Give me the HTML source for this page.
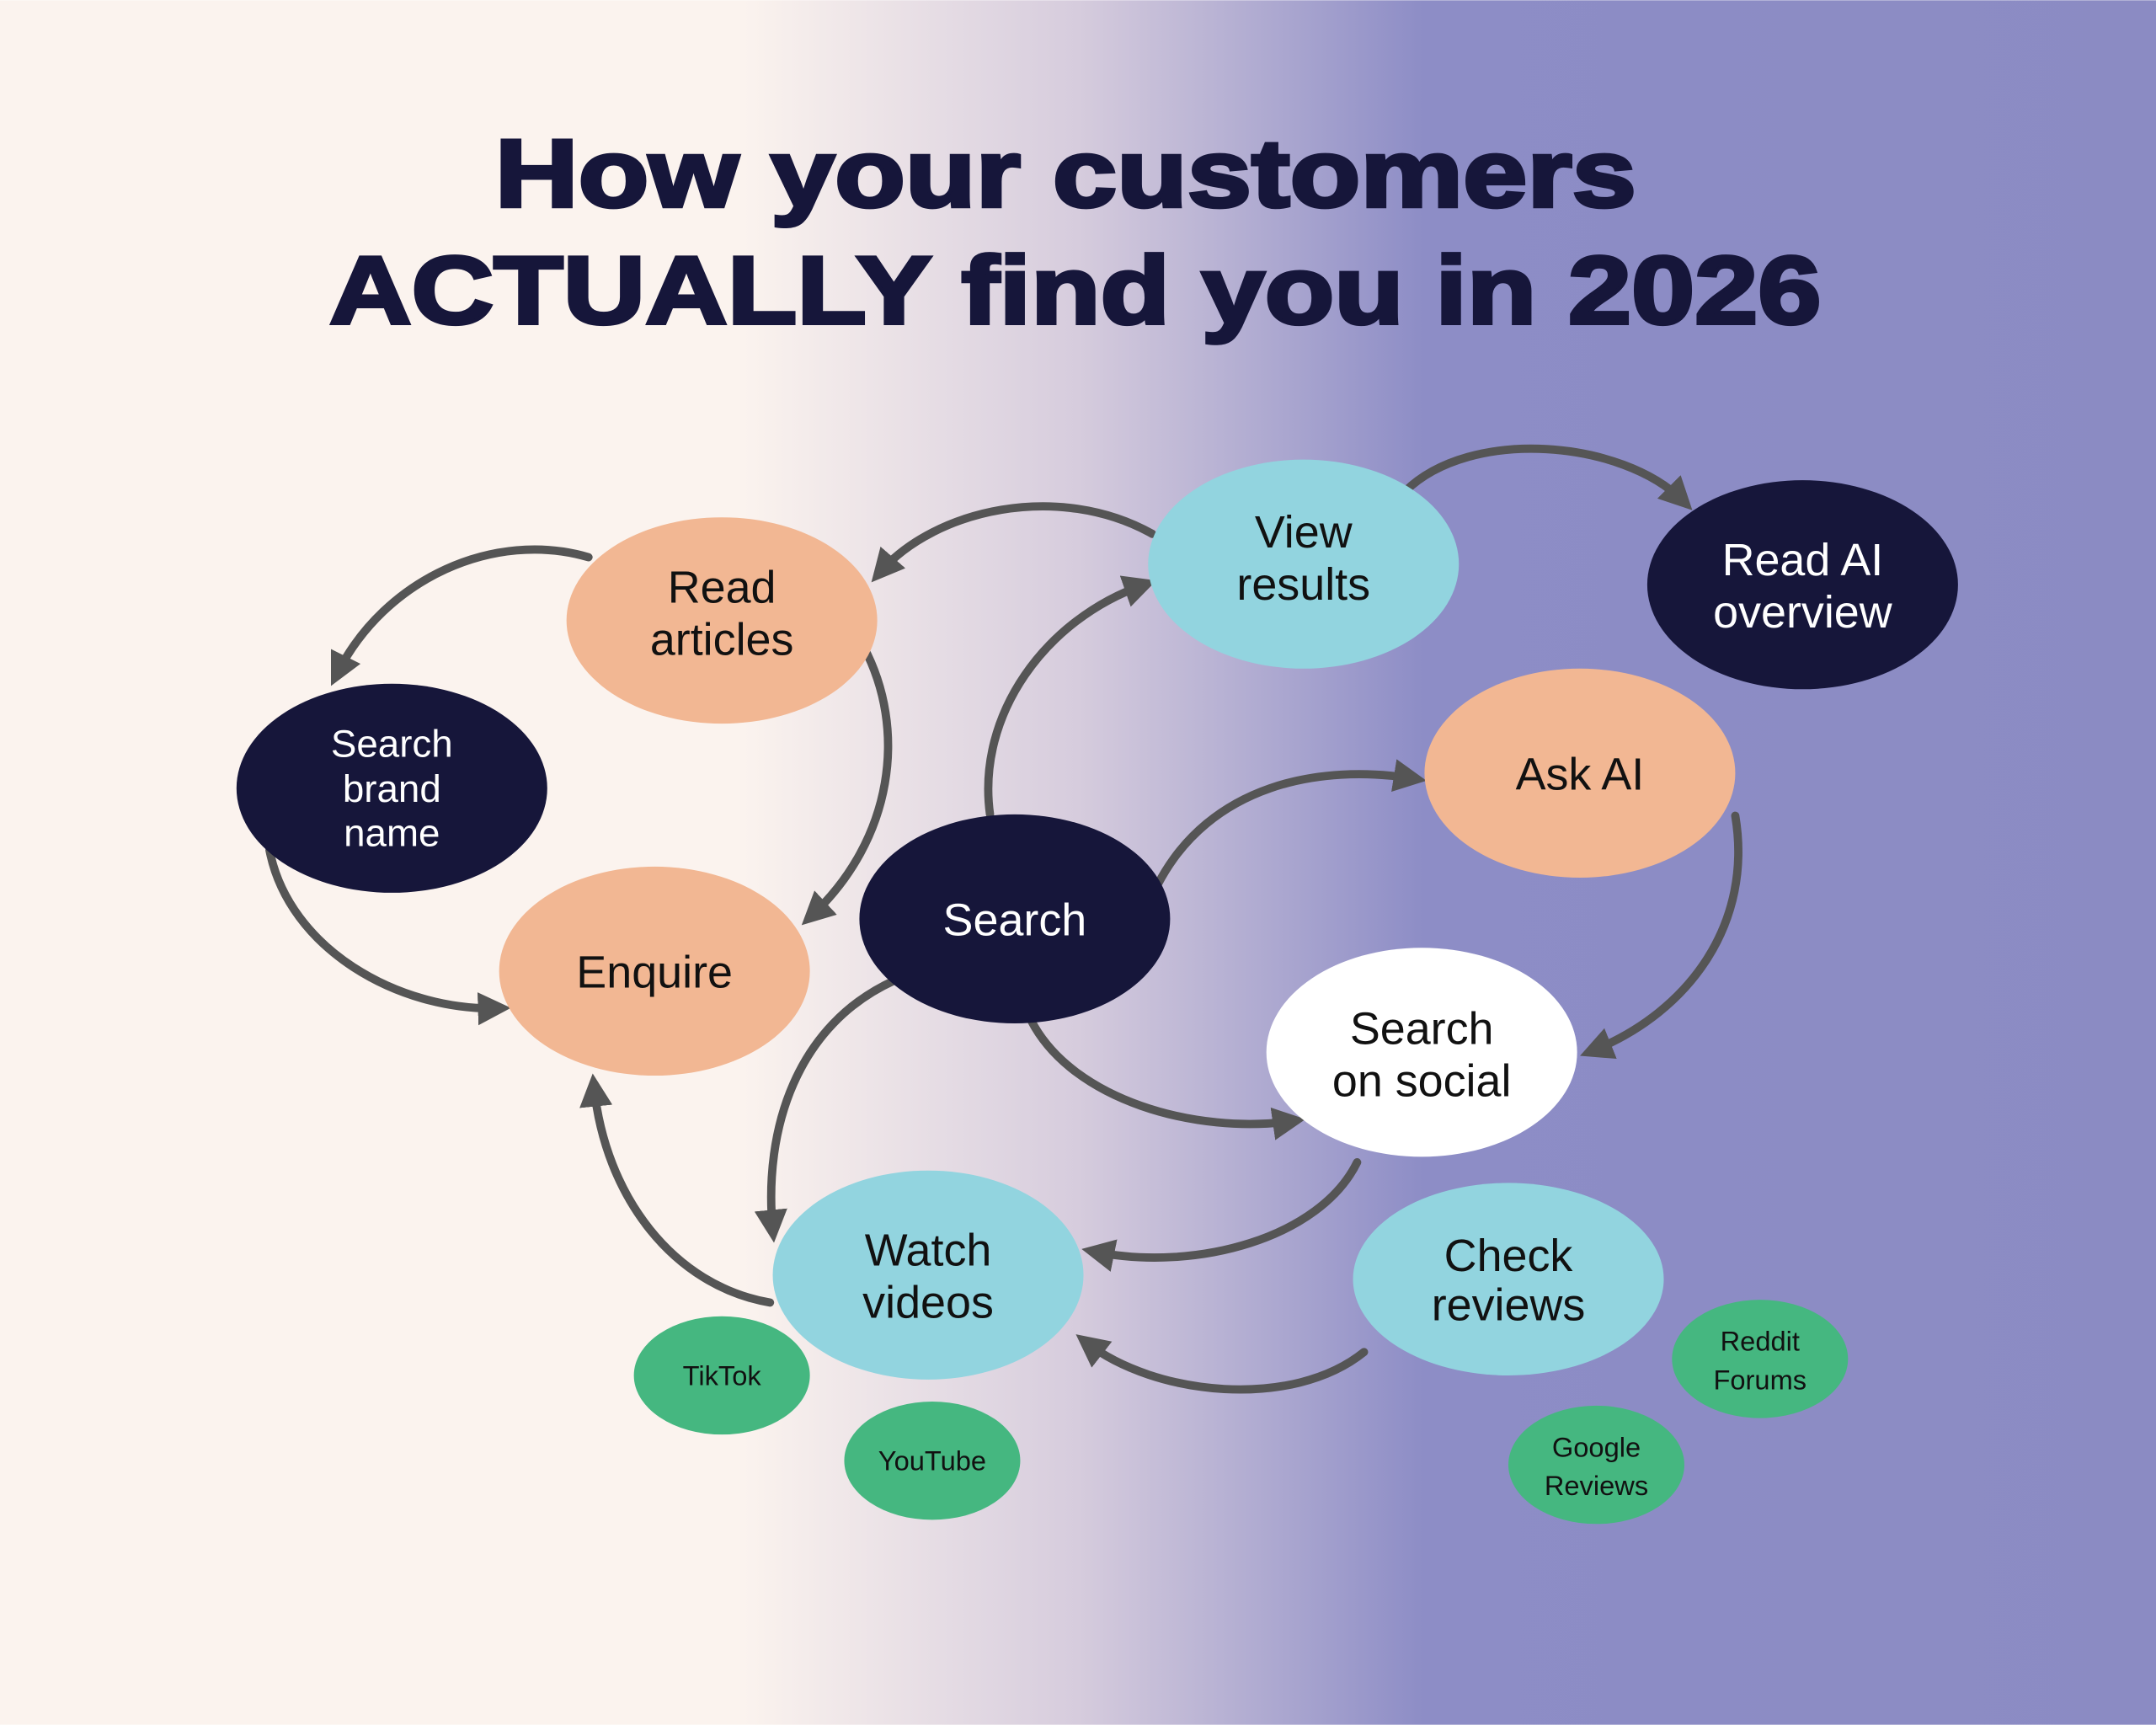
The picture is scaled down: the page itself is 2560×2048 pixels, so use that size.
<!DOCTYPE html>
<html><head><meta charset="utf-8"><style>
html,body{margin:0;padding:0;width:2560px;height:2048px;overflow:hidden}
svg{display:block}
text{font-family:"Liberation Sans",sans-serif}
</style></head><body>
<svg width="2560" height="2048" viewBox="0 0 1568 1254" xmlns="http://www.w3.org/2000/svg">
<defs>
<linearGradient id="bg" x1="0" y1="0" x2="1" y2="0">
<stop offset="0" stop-color="#FBF3EE"/>
<stop offset="0.345" stop-color="#FBF3EE"/>
<stop offset="0.5" stop-color="#D6CCDD"/>
<stop offset="0.66" stop-color="#8D8DC6"/>
<stop offset="1" stop-color="#8B8BC3"/>
</linearGradient>
<marker id="ah" viewBox="0 0 10 10" refX="6" refY="5" markerWidth="4" markerHeight="4" orient="auto" markerUnits="strokeWidth">
<path d="M0,0 L10,5 L0,10 z" fill="#555"/>
</marker>
</defs>
<rect width="1568" height="1254" fill="url(#bg)"/>
<g fill="#16163A" stroke="#16163A" stroke-width="2.5" font-weight="bold" text-anchor="middle">
<text x="775" y="150" font-size="70" textLength="830" lengthAdjust="spacingAndGlyphs">How your customers</text>
<text x="782" y="235" font-size="70" textLength="1085" lengthAdjust="spacingAndGlyphs">ACTUALLY find you in 2026</text>
</g>
<g fill="none" stroke="#555" stroke-width="6" marker-end="url(#ah)" stroke-linecap="round">
<path d="M428,405 C360,385 280,420 245,490"/>
<path d="M838,388 C770,350 680,370 640,416"/>
<path d="M628,470 C660,530 650,610 590,666"/>
<path d="M720,592 C710,520 760,450 832,425"/>
<path d="M1022,357 C1070,310 1180,320 1224,364"/>
<path d="M196,618 C210,690 290,735 362,733"/>
<path d="M842,643 C880,570 960,555 1028,566"/>
<path d="M1262,593 C1275,670 1230,735 1158,764"/>
<path d="M750,742 C780,800 870,825 940,815"/>
<path d="M650,713 C580,745 555,820 562,894"/>
<path d="M987,845 C960,900 870,925 796,910"/>
<path d="M560,947 C490,935 440,870 432,790"/>
<path d="M992,983 C940,1025 840,1015 790,976"/>
</g>
<g>
<ellipse cx="525" cy="451" rx="113" ry="75" fill="#F2B793"/>
<ellipse cx="948" cy="410" rx="113" ry="76" fill="#92D4DF"/>
<ellipse cx="1311" cy="425" rx="113" ry="76" fill="#16163A"/>
<ellipse cx="285" cy="573" rx="113" ry="76" fill="#16163A"/>
<ellipse cx="1149" cy="562" rx="113" ry="76" fill="#F2B793"/>
<ellipse cx="476" cy="706" rx="113" ry="76" fill="#F2B793"/>
<ellipse cx="738" cy="668" rx="113" ry="76" fill="#16163A"/>
<ellipse cx="1034" cy="765" rx="113" ry="76" fill="#FFFFFF"/>
<ellipse cx="675" cy="927" rx="113" ry="76" fill="#92D4DF"/>
<ellipse cx="1097" cy="930" rx="113" ry="70" fill="#92D4DF"/>
<ellipse cx="525" cy="1000" rx="64" ry="43" fill="#45B780"/>
<ellipse cx="678" cy="1062" rx="64" ry="43" fill="#45B780"/>
<ellipse cx="1280" cy="988" rx="64" ry="43" fill="#45B780"/>
<ellipse cx="1161" cy="1065" rx="64" ry="43" fill="#45B780"/>
</g>
<g text-anchor="middle" font-size="33" fill="#111">
<text x="525" y="438">Read</text><text x="525" y="476">articles</text>
<text x="948" y="398">View</text><text x="948" y="436">results</text>
<text x="1311" y="418" fill="#fff">Read AI</text><text x="1311" y="456" fill="#fff">overview</text>
<text x="285" y="550" fill="#fff" font-size="28">Search</text><text x="285" y="583" fill="#fff" font-size="28">brand</text><text x="285" y="615" fill="#fff" font-size="28">name</text>
<text x="1149" y="574">Ask AI</text>
<text x="476" y="718">Enquire</text>
<text x="738" y="680" fill="#fff">Search</text>
<text x="1034" y="759">Search</text><text x="1034" y="797">on social</text>
<text x="675" y="920">Watch</text><text x="675" y="958">videos</text>
<text x="1097" y="924">Check</text><text x="1097" y="960">reviews</text>
<g font-size="20">
<text x="525" y="1007">TikTok</text>
<text x="678" y="1069">YouTube</text>
<text x="1280" y="982">Reddit</text><text x="1280" y="1010">Forums</text>
<text x="1161" y="1059">Google</text><text x="1161" y="1087">Reviews</text>
</g>
</g>
</svg>
</body></html>
